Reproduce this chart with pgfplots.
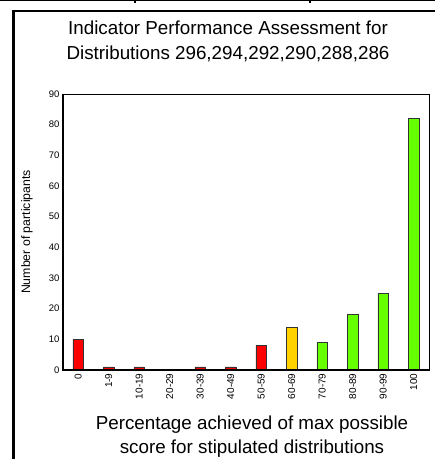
\documentclass[border=0pt]{standalone}
\usepackage{pgfplots}
\pgfplotsset{compat=1.18}
\usepackage{fontspec}
\setmainfont{Liberation Sans}
\definecolor{barred}{HTML}{FF0000}
\definecolor{bargold}{HTML}{FFD200}
\definecolor{bargreen}{HTML}{66FF00}
\begin{document}
\begin{tikzpicture}
\useasboundingbox (0pt,0pt) rectangle (435pt,-459pt);
% frame remnants
\draw[line width=1.2pt] (0pt,-0.6pt) -- (435pt,-0.6pt);
\draw[line width=1.2pt] (135pt,0pt) -- (135pt,-3pt);
\draw[line width=1.2pt] (310pt,0pt) -- (310pt,-3pt);
\draw[line width=2.2pt] (13.5pt,-459pt) -- (13.5pt,-11pt) -- (435pt,-11pt);
% title
\node[align=center,font=\fontsize{18.8}{25}\selectfont] at (228pt,-41.5pt) {Indicator Performance Assessment for\\Distributions 296,294,292,290,288,286};
\begin{axis}[
  at={(63pt,-370pt)}, anchor=south west,
  scale only axis, width=366pt, height=276pt,
  xmin=-0.5, xmax=11.5, ymin=0, ymax=90,
  ytick={0,10,...,90},
  xtick={0,...,11},
  xticklabels={0,1-9,10-19,20-29,30-39,40-49,50-59,60-69,70-79,80-89,90-99,100},
  x tick label style={rotate=90, anchor=east, font=\fontsize{10}{11}\selectfont},
  y tick label style={font=\fontsize{9.5}{11}\selectfont},
  /pgf/number format/assume math mode=true,
  major tick length=0pt,
  axis line style={line width=0.8pt},
  ybar, bar width=10.5pt, bar shift=0pt,
  ylabel={Number of participants},
  ylabel style={font=\fontsize{12.3}{13}\selectfont, at={(axis description cs:-0.0984,0.5)}, anchor=center},
  xlabel={Percentage achieved of max possible\\score for stipulated distributions},
  xlabel style={align=center, font=\fontsize{18.8}{24}\selectfont, at={(axis description cs:0.5,0)}, anchor=center, yshift=-67pt, xshift=6pt},
  clip=false,
]
\addplot[fill=barred, draw=black!80, line width=0.8pt] coordinates {(0,10) (1,1) (2,1) (3,0) (4,1) (5,1) (6,8)};
\addplot[fill=bargold, draw=black!80, line width=0.8pt] coordinates {(7,14)};
\addplot[fill=bargreen, draw=black!80, line width=0.8pt] coordinates {(8,9) (9,18) (10,25) (11,82)};
\draw[line width=1.6pt] (rel axis cs:0,1) -- (rel axis cs:0,0) -- (rel axis cs:1,0);
\end{axis}
\end{tikzpicture}
\end{document}
